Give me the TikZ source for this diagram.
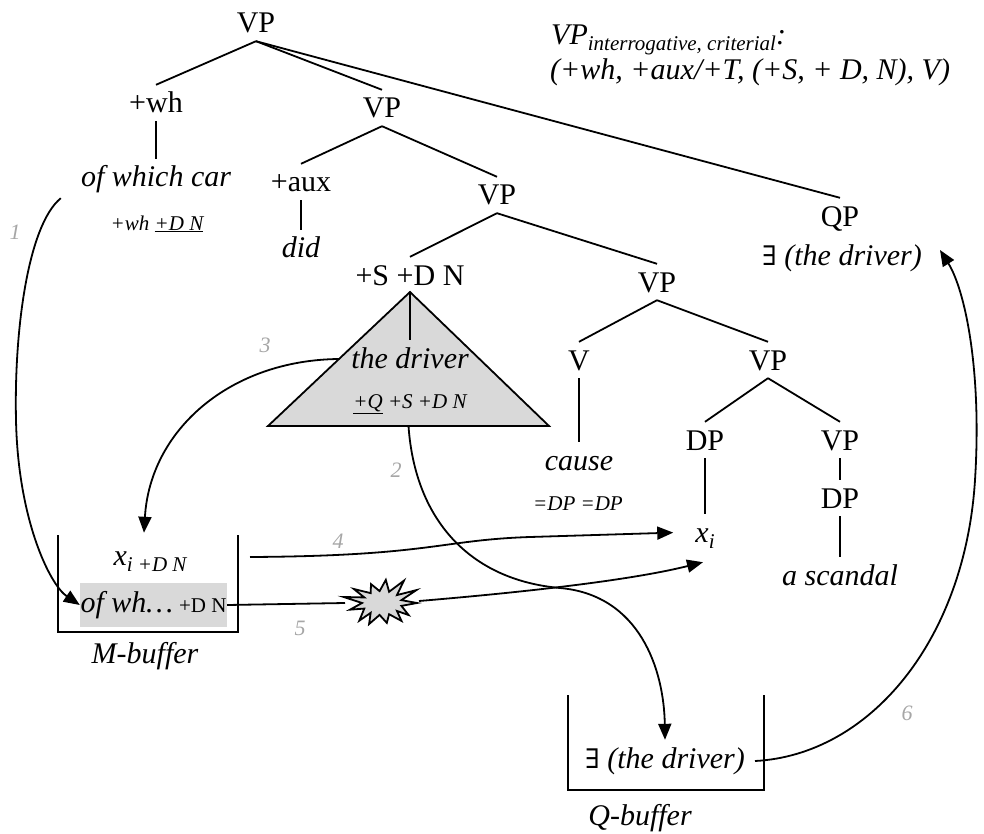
\documentclass[tikz,border=0pt]{standalone}
\usepackage{fontspec}
\setmainfont{Liberation Serif}
\newfontfamily\symfont{DejaVu Serif}
\usetikzlibrary{arrows.meta, calc}
\definecolor{shade}{RGB}{217,217,217}
\definecolor{numgray}{RGB}{166,166,166}
\newcommand{\bigfont}{\fontsize{30}{34}\selectfont}
\newcommand{\featfont}{\fontsize{21}{24}\selectfont\itshape}
\newcommand{\lowsub}[1]{\raisebox{-6pt}{\featfont #1}}
\newcommand{\exq}{{\symfont\fontsize{27}{30}\selectfont ∃}}

\begin{document}
\begin{tikzpicture}[x=1pt, y=-1pt,
  tl/.style={font=\bigfont, anchor=base, text height=20pt, text depth=0pt, inner ysep=8pt, inner xsep=2pt},
  tw/.style={tl, font=\bigfont\itshape},
  ft/.style={font=\featfont, anchor=base, inner sep=1pt},
  num/.style={font=\fontsize{22}{24}\selectfont\itshape, text=numgray},
  branch/.style={line width=1.8pt},
  mv/.style={line width=1.8pt, -{Triangle[length=16pt, width=13pt]}}]
\useasboundingbox (0,0) rectangle (984,834);

\coordinate (apex) at (410,292);
\coordinate (triL) at (268,426);
\coordinate (triR) at (549,426);
\draw[branch, fill=shade] (apex) -- (triL) -- (triR) -- cycle;

\node[tl] (vpA) at (256,33) {VP};
\node[tl] (wh) at (156,113) {+wh};
\node[tl] (vpB) at (382,118) {VP};
\node[tw] (ofwhich) at (156,187) {of which car};
\node[ft] (whfeat) at (157,230) {+wh \underline{+D N}};
\node[tl] (aux) at (301,192) {+aux};
\node[tw] (did) at (301,258) {did};
\node[tl] (vpC) at (497,205) {VP};
\node[tl] (sdn) at (410,285) {+S +D N};
\node[tw] (driver) at (410,368) {the driver};
\node[ft] (driverfeat) at (410,408) {\underline{+Q} +S +D N};
\node[tl] (vpD) at (657,292) {VP};
\node[tl] (v) at (579,370) {V};
\node[tw] (cause) at (579,470) {cause};
\node[ft] (causefeat) at (578,510) {=DP =DP};
\node[tl] (vpE) at (768,370) {VP};
\node[tl] (dp) at (705,450) {DP};
\node[tw] (xi) at (705,542) {x\lowsub{i}};
\node[tl] (vpF) at (840,450) {VP};
\node[tl] (dpB) at (840,508) {DP};
\node[tw] (scandal) at (840,585) {a scandal};
\node[tl] (qp) at (840,226) {QP};
\node[tw] (qexists) at (842,265) {\exq\ (the driver)};

\node[anchor=base west, inner sep=0, font=\bigfont\itshape] (critA) at (551,45) {VP\lowsub{interrogative, criterial}:};
\node[anchor=base west, inner sep=0, font=\bigfont\itshape] (critB) at (550,80) {(+wh, +aux/+T, (+S, + D, N), V)};

\draw[branch] (vpA.south) -- (wh.north);
\draw[branch] (vpA.south) -- (vpB.north);
\draw[branch] (vpA.south) -- (qp.north);
\draw[branch] (wh.south) -- (ofwhich.north);
\draw[branch] (vpB.south) -- (aux.north);
\draw[branch] (vpB.south) -- (vpC.north);
\draw[branch] (aux.south) -- (did.north);
\draw[branch] (vpC.south) -- (sdn.north);
\draw[branch] (vpC.south) -- (vpD.north);
\draw[branch] (apex) -- (driver.north);
\draw[branch] (vpD.south) -- (v.north);
\draw[branch] (vpD.south) -- (vpE.north);
\draw[branch] (v.south) -- (cause.north);
\draw[branch] (vpE.south) -- (dp.north);
\draw[branch] (vpE.south) -- (vpF.north);
\draw[branch] (dp.south) -- (xi.north);
\draw[branch] (vpF.south) -- (dpB.north);
\draw[branch] (dpB.south) -- (scandal.north);

\draw[branch] (58,535) -- (58,632) -- (238,632) -- (238,535);
\node[tl] (mxi) at (150,565) {\itshape x\lowsub{i +D N}};
\node[fill=shade, minimum width=147pt, minimum height=44pt, inner sep=0] (mwh) at (153.5,605) {\bigfont\itshape of wh\ldots\hspace{6pt}\upshape\fontsize{21}{24}\selectfont +D N};
\node[tw] (mlabel) at (145,663) {M-buffer};

\draw[branch] (568,695) -- (568,790) -- (764,790) -- (764,695);
\node[tw] (qdriver) at (665,768) {\exq\ (the driver)};
\node[tw] (qlabel) at (640,825) {Q-buffer};

\coordinate (burst) at (382,603);
\draw[branch, fill=shade] plot[samples at={0,...,25}, variable=\k] ({382+cos(\k*360/26)*(mod(\k,2)==0 ? 35+5*sin(\k*137) : 20)}, {603+sin(\k*360/26)*(mod(\k,2)==0 ? 24+4*cos(\k*211) : 12)}) -- cycle;

\draw[mv] ($(ofwhich.south west)+(-18,3)$) .. controls (28,225) and (14,330) .. (16,420) .. controls (18,520) and (50,585) .. (mwh.west);
\draw[mv] ($(triL)!0.5!(triR)$) .. controls (415,520) and (470,580) .. (560,588) .. controls (640,595) and (664,670) .. (qdriver.north);
\draw[mv] ($(apex)!0.5!(triL)$) .. controls (230,360) and (150,430) .. ($(mxi.north)+(-6,-4)$);
\coordinate (mright) at (250,557);
\draw[mv, shorten >=20pt] (mright) .. controls (430,556) and (440,540) .. (530,537) -- (xi.west);
\draw[branch] (mwh.east) -- ($(burst)+(-37,0)$);
\draw[mv] ($(burst)+(37,-2)$) .. controls (550,590) and (640,578) .. ($(xi.south)+(-2,12)$);
\draw[mv] ($(qdriver.east)+(8,3)$) .. controls (870,755) and (965,640) .. (975,480) .. controls (982,370) and (965,290) .. ($(qexists.east)+(16,-5)$);

\node[num] (n1) at (15,232) {1};
\node[num] (n2) at (396,470) {2};
\node[num] (n3) at (265,345) {3};
\node[num] (n4) at (338,541) {4};
\node[num] (n5) at (300,628) {5};
\node[num] (n6) at (907,713) {6};
\end{tikzpicture}
\end{document}
